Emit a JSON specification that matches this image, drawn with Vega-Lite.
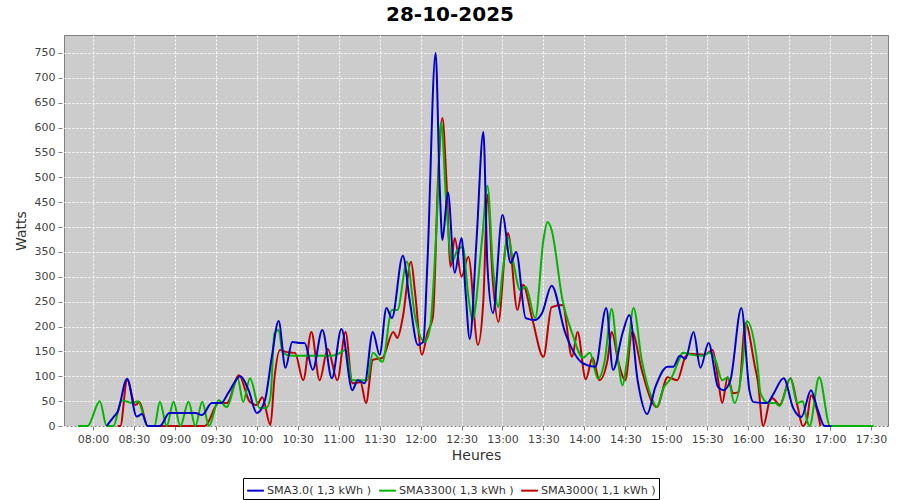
{
  "$schema": "https://vega.github.io/schema/vega-lite/v6.json",
  "width": 824,
  "height": 391,
  "autosize": {"type": "none"},
  "padding": {"left": 64, "top": 35, "right": 12, "bottom": 74},
  "background": "white",
  "title": {"text": "28-10-2025", "fontSize": 20, "font": "DejaVu Sans", "fontWeight": "bold", "color": "black", "anchor": "middle", "dx": -26, "offset": 10},
  "config": {"view": {"fill": "#CCCCCC", "stroke": "#808080", "strokeWidth": 1}, "font": "DejaVu Sans"},
  "data": {"values": [
    {"s":"r","m":498,"w":0},{"s":"r","m":500,"w":0},{"s":"r","m":505,"w":93},{"s":"r","m":511,"w":42},{"s":"r","m":514,"w":48},{"s":"r","m":520,"w":0},{"s":"r","m":540,"w":0},{"s":"r","m":562,"w":0},{"s":"r","m":572,"w":46},{"s":"r","m":578,"w":46},{"s":"r","m":587,"w":102},{"s":"r","m":595,"w":48},{"s":"r","m":600,"w":42},{"s":"r","m":604,"w":58},{"s":"r","m":610,"w":2},{"s":"r","m":613,"w":98},{"s":"r","m":617,"w":153},{"s":"r","m":621,"w":149},{"s":"r","m":628,"w":147},{"s":"r","m":634,"w":92},{"s":"r","m":640,"w":189},{"s":"r","m":646,"w":92},{"s":"r","m":652,"w":155},{"s":"r","m":659,"w":92},{"s":"r","m":665,"w":189},{"s":"r","m":670,"w":86},{"s":"r","m":676,"w":88},{"s":"r","m":680,"w":46},{"s":"r","m":685,"w":133},{"s":"r","m":692,"w":137},{"s":"r","m":700,"w":189},{"s":"r","m":703,"w":177},{"s":"r","m":707,"w":219},{"s":"r","m":713,"w":330},{"s":"r","m":716,"w":267},{"s":"r","m":721,"w":143},{"s":"r","m":725,"w":187},{"s":"r","m":729,"w":219},{"s":"r","m":733,"w":509},{"s":"r","m":736,"w":619},{"s":"r","m":739,"w":489},{"s":"r","m":742,"w":320},{"s":"r","m":745,"w":378},{"s":"r","m":750,"w":300},{"s":"r","m":755,"w":340},{"s":"r","m":762,"w":163},{"s":"r","m":766,"w":253},{"s":"r","m":769,"w":465},{"s":"r","m":773,"w":288},{"s":"r","m":777,"w":209},{"s":"r","m":782,"w":354},{"s":"r","m":784,"w":388},{"s":"r","m":791,"w":233},{"s":"r","m":795,"w":284},{"s":"r","m":802,"w":213},{"s":"r","m":810,"w":139},{"s":"r","m":816,"w":239},{"s":"r","m":824,"w":243},{"s":"r","m":831,"w":139},{"s":"r","m":835,"w":189},{"s":"r","m":841,"w":94},{"s":"r","m":846,"w":137},{"s":"r","m":848,"w":120},{"s":"r","m":851,"w":92},{"s":"r","m":857,"w":133},{"s":"r","m":860,"w":189},{"s":"r","m":865,"w":127},{"s":"r","m":870,"w":92},{"s":"r","m":875,"w":189},{"s":"r","m":882,"w":113},{"s":"r","m":890,"w":46},{"s":"r","m":893,"w":38},{"s":"r","m":901,"w":98},{"s":"r","m":908,"w":92},{"s":"r","m":914,"w":139},{"s":"r","m":917,"w":145},{"s":"r","m":928,"w":143},{"s":"r","m":934,"w":153},{"s":"r","m":938,"w":92},{"s":"r","m":941,"w":46},{"s":"r","m":945,"w":98},{"s":"r","m":949,"w":66},{"s":"r","m":953,"w":68},{"s":"r","m":958,"w":207},{"s":"r","m":965,"w":119},{"s":"r","m":967,"w":92},{"s":"r","m":971,"w":0},{"s":"r","m":976,"w":52},{"s":"r","m":978,"w":56},{"s":"r","m":983,"w":42},{"s":"r","m":991,"w":96},{"s":"r","m":996,"w":42},{"s":"r","m":1000,"w":0},{"s":"r","m":1003,"w":12},{"s":"r","m":1006,"w":62},{"s":"r","m":1013,"w":0},
    {"s":"g","m":469,"w":0},{"s":"g","m":476,"w":0},{"s":"g","m":485,"w":50},{"s":"g","m":490,"w":0},{"s":"g","m":495,"w":0},{"s":"g","m":501,"w":52},{"s":"g","m":509,"w":46},{"s":"g","m":513,"w":50},{"s":"g","m":520,"w":0},{"s":"g","m":525,"w":0},{"s":"g","m":529,"w":49},{"s":"g","m":534,"w":0},{"s":"g","m":539,"w":49},{"s":"g","m":544,"w":0},{"s":"g","m":550,"w":49},{"s":"g","m":555,"w":0},{"s":"g","m":560,"w":49},{"s":"g","m":565,"w":0},{"s":"g","m":572,"w":52},{"s":"g","m":578,"w":38},{"s":"g","m":586,"w":96},{"s":"g","m":590,"w":48},{"s":"g","m":595,"w":96},{"s":"g","m":602,"w":36},{"s":"g","m":607,"w":36},{"s":"g","m":610,"w":58},{"s":"g","m":613,"w":187},{"s":"g","m":616,"w":193},{"s":"g","m":619,"w":147},{"s":"g","m":626,"w":141},{"s":"g","m":640,"w":141},{"s":"g","m":655,"w":141},{"s":"g","m":661,"w":147},{"s":"g","m":665,"w":153},{"s":"g","m":670,"w":92},{"s":"g","m":676,"w":92},{"s":"g","m":681,"w":92},{"s":"g","m":685,"w":147},{"s":"g","m":692,"w":129},{"s":"g","m":699,"w":233},{"s":"g","m":703,"w":233},{"s":"g","m":710,"w":330},{"s":"g","m":716,"w":219},{"s":"g","m":723,"w":169},{"s":"g","m":727,"w":199},{"s":"g","m":732,"w":420},{"s":"g","m":735,"w":611},{"s":"g","m":739,"w":440},{"s":"g","m":743,"w":330},{"s":"g","m":747,"w":354},{"s":"g","m":751,"w":360},{"s":"g","m":755,"w":260},{"s":"g","m":758,"w":213},{"s":"g","m":765,"w":374},{"s":"g","m":769,"w":483},{"s":"g","m":773,"w":320},{"s":"g","m":777,"w":239},{"s":"g","m":780,"w":308},{"s":"g","m":784,"w":380},{"s":"g","m":788,"w":328},{"s":"g","m":793,"w":273},{"s":"g","m":797,"w":280},{"s":"g","m":804,"w":217},{"s":"g","m":810,"w":374},{"s":"g","m":813,"w":410},{"s":"g","m":816,"w":394},{"s":"g","m":824,"w":253},{"s":"g","m":831,"w":187},{"s":"g","m":839,"w":137},{"s":"g","m":844,"w":147},{"s":"g","m":850,"w":95},{"s":"g","m":855,"w":133},{"s":"g","m":860,"w":235},{"s":"g","m":864,"w":147},{"s":"g","m":868,"w":82},{"s":"g","m":871,"w":127},{"s":"g","m":876,"w":237},{"s":"g","m":882,"w":133},{"s":"g","m":890,"w":52},{"s":"g","m":893,"w":38},{"s":"g","m":898,"w":76},{"s":"g","m":904,"w":98},{"s":"g","m":910,"w":137},{"s":"g","m":912,"w":147},{"s":"g","m":919,"w":143},{"s":"g","m":926,"w":141},{"s":"g","m":932,"w":147},{"s":"g","m":936,"w":133},{"s":"g","m":941,"w":92},{"s":"g","m":945,"w":98},{"s":"g","m":950,"w":46},{"s":"g","m":956,"w":127},{"s":"g","m":959,"w":211},{"s":"g","m":967,"w":119},{"s":"g","m":969,"w":66},{"s":"g","m":975,"w":46},{"s":"g","m":980,"w":46},{"s":"g","m":983,"w":40},{"s":"g","m":991,"w":96},{"s":"g","m":996,"w":46},{"s":"g","m":1000,"w":50},{"s":"g","m":1003,"w":12},{"s":"g","m":1005,"w":0},{"s":"g","m":1012,"w":98},{"s":"g","m":1020,"w":0},{"s":"g","m":1052,"w":0},
    {"s":"b","m":490,"w":0},{"s":"b","m":495,"w":18},{"s":"b","m":498,"w":28},{"s":"b","m":505,"w":95},{"s":"b","m":512,"w":19},{"s":"b","m":516,"w":24},{"s":"b","m":520,"w":0},{"s":"b","m":529,"w":0},{"s":"b","m":536,"w":26},{"s":"b","m":545,"w":26},{"s":"b","m":555,"w":26},{"s":"b","m":560,"w":22},{"s":"b","m":567,"w":46},{"s":"b","m":574,"w":46},{"s":"b","m":579,"w":66},{"s":"b","m":588,"w":100},{"s":"b","m":594,"w":72},{"s":"b","m":600,"w":26},{"s":"b","m":606,"w":52},{"s":"b","m":611,"w":139},{"s":"b","m":616,"w":211},{"s":"b","m":621,"w":117},{"s":"b","m":626,"w":169},{"s":"b","m":632,"w":167},{"s":"b","m":635,"w":167},{"s":"b","m":641,"w":113},{"s":"b","m":648,"w":193},{"s":"b","m":655,"w":96},{"s":"b","m":662,"w":195},{"s":"b","m":670,"w":72},{"s":"b","m":674,"w":92},{"s":"b","m":679,"w":86},{"s":"b","m":685,"w":189},{"s":"b","m":690,"w":143},{"s":"b","m":695,"w":237},{"s":"b","m":699,"w":217},{"s":"b","m":707,"w":342},{"s":"b","m":712,"w":253},{"s":"b","m":718,"w":163},{"s":"b","m":722,"w":169},{"s":"b","m":725,"w":328},{"s":"b","m":731,"w":750},{"s":"b","m":734,"w":481},{"s":"b","m":736,"w":374},{"s":"b","m":740,"w":470},{"s":"b","m":745,"w":308},{"s":"b","m":750,"w":378},{"s":"b","m":753,"w":267},{"s":"b","m":756,"w":175},{"s":"b","m":761,"w":374},{"s":"b","m":766,"w":591},{"s":"b","m":769,"w":320},{"s":"b","m":773,"w":227},{"s":"b","m":780,"w":424},{"s":"b","m":786,"w":328},{"s":"b","m":790,"w":350},{"s":"b","m":797,"w":217},{"s":"b","m":804,"w":213},{"s":"b","m":809,"w":227},{"s":"b","m":816,"w":282},{"s":"b","m":826,"w":187},{"s":"b","m":839,"w":126},{"s":"b","m":848,"w":119},{"s":"b","m":856,"w":237},{"s":"b","m":861,"w":113},{"s":"b","m":868,"w":187},{"s":"b","m":873,"w":223},{"s":"b","m":879,"w":92},{"s":"b","m":886,"w":24},{"s":"b","m":892,"w":78},{"s":"b","m":901,"w":119},{"s":"b","m":905,"w":119},{"s":"b","m":910,"w":141},{"s":"b","m":914,"w":135},{"s":"b","m":920,"w":189},{"s":"b","m":925,"w":117},{"s":"b","m":931,"w":167},{"s":"b","m":938,"w":78},{"s":"b","m":942,"w":72},{"s":"b","m":947,"w":92},{"s":"b","m":955,"w":237},{"s":"b","m":961,"w":70},{"s":"b","m":964,"w":48},{"s":"b","m":974,"w":46},{"s":"b","m":978,"w":62},{"s":"b","m":986,"w":96},{"s":"b","m":993,"w":36},{"s":"b","m":999,"w":18},{"s":"b","m":1006,"w":72},{"s":"b","m":1011,"w":32},{"s":"b","m":1016,"w":0},{"s":"b","m":1021,"w":0}
  ]},
  "mark": {"type": "line", "interpolate": "monotone", "strokeWidth": 2},
  "encoding": {
    "x": {"field": "m", "type": "quantitative",
      "scale": {"domain": [458.75, 1062.45], "nice": false, "zero": false},
      "axis": {"title": "Heures", "values": [480,510,540,570,600,630,660,690,720,750,780,810,840,870,900,930,960,990,1020,1050],
        "labelExpr": "(floor(datum.value/60) < 10 ? '0' : '') + floor(datum.value/60) + ':' + (datum.value % 60 < 10 ? '0' : '') + (datum.value % 60)",
        "grid": true, "gridColor": "white", "gridDash": [2, 2], "gridOpacity": 1, "domain": false, "tickColor": "#808080", "tickSize": 4, "labelFontSize": 11, "labelColor": "#444444", "labelPadding": 3, "labelFlush": false, "titleFontSize": 14, "titleFontWeight": "normal", "titleColor": "#333333", "titlePadding": 4}},
    "y": {"field": "w", "type": "quantitative",
      "scale": {"domain": [0, 786], "nice": false},
      "axis": {"title": "Watts", "values": [0,50,100,150,200,250,300,350,400,450,500,550,600,650,700,750], "grid": true, "gridColor": "white", "gridDash": [2, 2], "gridOpacity": 1, "domain": false, "tickColor": "#808080", "tickSize": 4, "offset": 2, "labelFontSize": 11, "labelColor": "#444444", "labelPadding": 3, "titleFontSize": 14, "titleFontWeight": "normal", "titleColor": "#333333", "titlePadding": 6}},
    "color": {"field": "s", "type": "nominal",
      "scale": {"domain": ["b", "g", "r"], "range": ["#0000C8", "#00B400", "#C00000"]},
      "legend": {"title": null, "orient": "none", "legendX": 179, "legendY": 443, "direction": "horizontal", "strokeColor": "black", "fillColor": "white", "padding": 3, "symbolType": "stroke", "symbolStrokeWidth": 2, "symbolSize": 280, "labelFontSize": 11.2, "labelColor": "#333333", "columnPadding": 3, "labelOffset": 2,
        "labelExpr": "datum.label == 'b' ? 'SMA3.0( 1,3 kWh )' : datum.label == 'g' ? 'SMA3300( 1,3 kWh )' : 'SMA3000( 1,1 kWh )'"}}
  }
}
